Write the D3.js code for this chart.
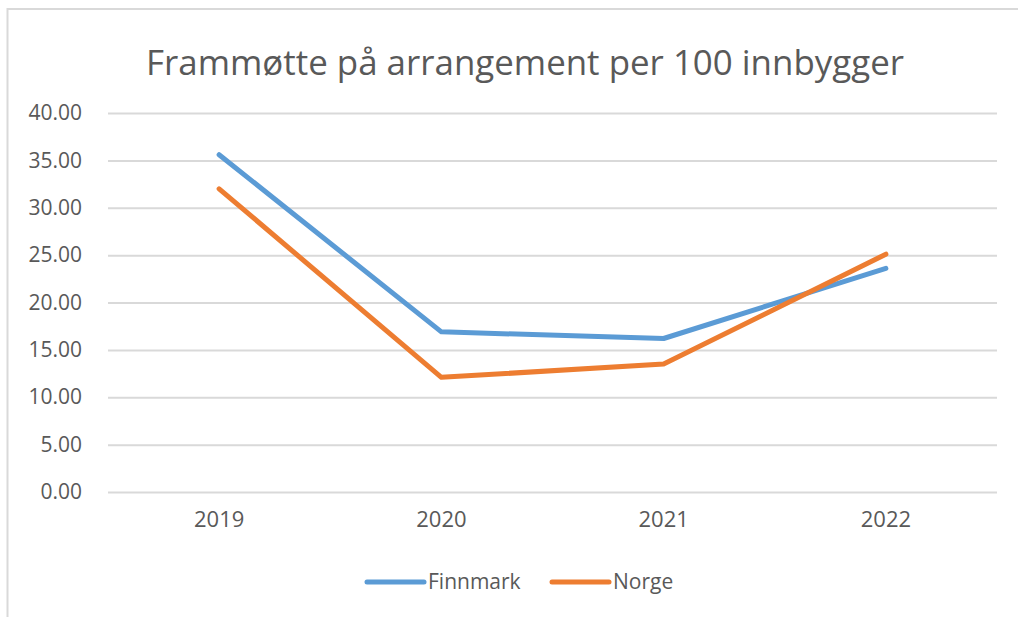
<!DOCTYPE html>
<html>
<head>
<meta charset="utf-8">
<script src="https://cdn.jsdelivr.net/npm/d3@7"></script>
<style>
  body { margin: 0; background: #fff; }
  svg { display: block; font-family: "Open Sans", sans-serif; }
</style>
</head>
<body>
<div id="chart"></div>
<script>
const years = ["2019", "2020", "2021", "2022"];
const finnmark = [35.6, 16.9, 16.2, 23.6];
const norge = [32.0, 12.1, 13.5, 25.1];
const yTicks = [0, 5, 10, 15, 20, 25, 30, 35, 40];

const w = 1018, h = 617;
const margin = { top: 113, right: 21, bottom: 125, left: 108 };

const svg = d3.select("#chart").append("svg")
    .attr("width", w)
    .attr("height", h);

// frame
svg.append("rect")
    .attr("x", 7.5)
    .attr("y", 9)
    .attr("width", w + 10)
    .attr("height", h + 10)
    .attr("fill", "none")
    .attr("stroke", "#d9d9d9")
    .attr("stroke-width", 2);

const x = d3.scaleBand()
    .domain(years)
    .range([margin.left, w - margin.right]);

const y = d3.scaleLinear()
    .domain([0, 40])
    .range([h - margin.bottom, margin.top]);

// title
svg.append("text")
    .attr("x", 525)
    .attr("y", 75)
    .attr("text-anchor", "middle")
    .attr("font-size", 34)
    .attr("textLength", 758)
    .attr("lengthAdjust", "spacingAndGlyphs")
    .attr("fill", "#595959")
    .text("Frammøtte på arrangement per 100 innbygger");

// grid + y labels
const yAxis = svg.append("g")
    .attr("transform", `translate(${margin.left},0)`)
    .call(d3.axisLeft(y)
        .tickValues(yTicks)
        .tickSize(-(w - margin.left - margin.right))
        .tickPadding(26)
        .tickFormat(d3.format(".2f")));

yAxis.select(".domain").remove();
yAxis.selectAll(".tick line")
    .attr("stroke", "#d9d9d9")
    .attr("stroke-width", 2);
yAxis.selectAll(".tick text")
    .attr("font-size", 21)
    .attr("font-family", "Open Sans, sans-serif")
    .attr("fill", "#595959");

// x labels
const xAxis = svg.append("g")
    .attr("transform", `translate(0,${h - margin.bottom})`)
    .call(d3.axisBottom(x).tickSize(0).tickPadding(19));

xAxis.select(".domain").remove();
xAxis.selectAll(".tick text")
    .attr("font-size", 22)
    .attr("font-family", "Open Sans, sans-serif")
    .attr("fill", "#595959");

const line = d3.line()
    .x((d, i) => x(years[i]) + x.bandwidth() / 2)
    .y(d => y(d));

const series = [
    { name: "Finnmark", values: finnmark, color: "#5b9bd5" },
    { name: "Norge", values: norge, color: "#ed7d31" }
];

series.forEach(s => {
    svg.append("path")
        .datum(s.values)
        .attr("fill", "none")
        .attr("stroke", s.color)
        .attr("stroke-width", 5)
        .attr("stroke-linecap", "round")
        .attr("stroke-linejoin", "round")
        .attr("d", line);
});

// legend
const legendX = [367, 552];
const legend = svg.append("g");
series.forEach((s, i) => {
    const g = legend.append("g").attr("transform", `translate(${legendX[i]},582)`);
    g.append("line")
        .attr("x1", 0)
        .attr("x2", 57)
        .attr("stroke", s.color)
        .attr("stroke-width", 5)
        .attr("stroke-linecap", "round");
    g.append("text")
        .attr("x", 61)
        .attr("y", 7)
        .attr("font-size", 21)
        .attr("fill", "#595959")
        .text(s.name);
});
</script>
</body>
</html>
